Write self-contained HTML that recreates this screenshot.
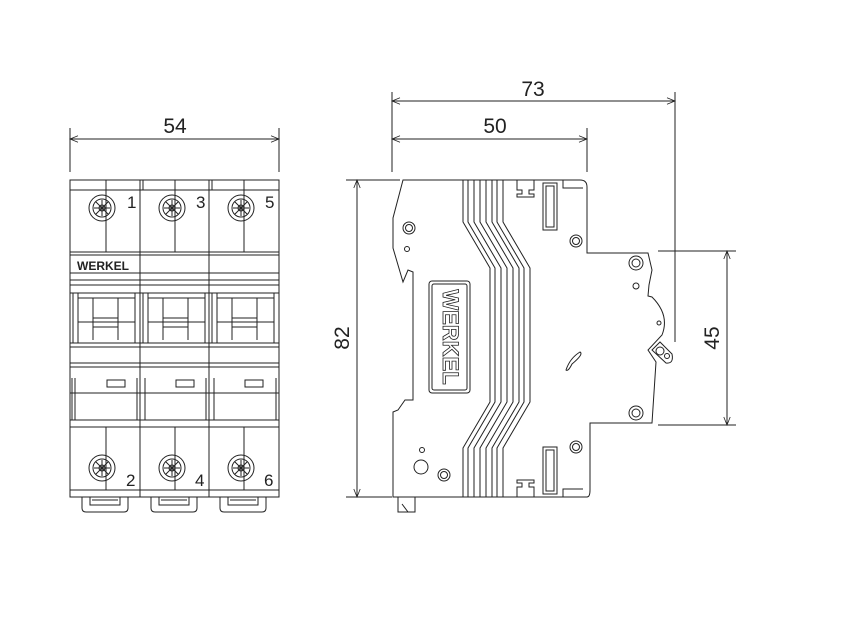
<!DOCTYPE html>
<html><head><meta charset="utf-8"><style>
html,body{margin:0;padding:0;background:#fff}
svg{display:block}
text{font-family:"Liberation Sans",sans-serif;fill:#222}
</style></head><body>
<svg width="842" height="643" viewBox="0 0 842 643" xmlns="http://www.w3.org/2000/svg">
<defs>
<marker id="a" viewBox="0 0 10 10" refX="10" refY="5" markerWidth="10" markerHeight="8" orient="auto-start-reverse" markerUnits="userSpaceOnUse"><path d="M0,1 L10,5 L0,9" fill="none" stroke="#222" stroke-width="1"/></marker>
</defs>
<g stroke="#222" stroke-width="1" fill="none">
<line x1="70" y1="128" x2="70" y2="172"/><line x1="279" y1="128" x2="279" y2="172"/>
<line x1="70" y1="139" x2="279" y2="139" marker-start="url(#a)" marker-end="url(#a)"/>
<line x1="392" y1="92" x2="392" y2="172"/><line x1="675" y1="92" x2="675" y2="342"/>
<line x1="587" y1="128" x2="587" y2="172"/>
<line x1="392" y1="101" x2="675" y2="101" marker-start="url(#a)" marker-end="url(#a)"/>
<line x1="392" y1="139" x2="587" y2="139" marker-start="url(#a)" marker-end="url(#a)"/>
<line x1="346" y1="180" x2="400" y2="180"/><line x1="346" y1="497" x2="392" y2="497"/>
<line x1="357" y1="180" x2="357" y2="497" marker-start="url(#a)" marker-end="url(#a)"/>
<line x1="658" y1="251" x2="736" y2="251"/><line x1="658" y1="425" x2="736" y2="425"/>
<line x1="727" y1="251" x2="727" y2="425" marker-start="url(#a)" marker-end="url(#a)"/>

<rect x="70" y="180" width="209" height="317"/>
<line x1="70" y1="190" x2="279" y2="190"/>
<line x1="140" y1="180" x2="140" y2="497"/><line x1="143" y1="180" x2="143" y2="190"/>
<line x1="209" y1="180" x2="209" y2="497"/><line x1="212" y1="180" x2="212" y2="190"/>
<line x1="106" y1="180" x2="106" y2="252"/><line x1="175" y1="180" x2="175" y2="252"/><line x1="244" y1="180" x2="244" y2="252"/>
<line x1="70" y1="252" x2="279" y2="252"/><line x1="70" y1="255" x2="279" y2="255"/>
<line x1="70" y1="273" x2="279" y2="273"/><line x1="70" y1="280" x2="279" y2="280"/>
<line x1="70" y1="285" x2="279" y2="285"/>
<line x1="70" y1="293" x2="279" y2="293"/>
<g>
<path d="M73,293 V343 M78,293 V343 M93,298 V340 M118,298 V340 M135,293 V343 M78,298 H135 M78,322 H135 M93,318 H118 M93,327 H118"/>
<path d="M143,293 V343 M148,293 V343 M163,298 V340 M188,298 V340 M205,293 V343 M148,298 H205 M148,322 H205 M163,318 H188 M163,327 H188"/>
<path d="M212,293 V343 M217,293 V343 M232,298 V340 M257,298 V340 M274,293 V343 M217,298 H274 M217,322 H274 M232,318 H257 M232,327 H257"/>
</g>
<line x1="70" y1="343" x2="279" y2="343"/><line x1="70" y1="347" x2="279" y2="347"/>
<line x1="70" y1="363" x2="279" y2="363"/><line x1="70" y1="367" x2="279" y2="367"/>
<path d="M72,378 V420 M75,378 V420 M137,378 V420 M145,378 V420 M206,378 V420 M214,378 V420 M276,378 V420"/>
<line x1="70" y1="393" x2="279" y2="393"/>
<rect x="107" y="380" width="18" height="7"/><rect x="176" y="380" width="18" height="7"/><rect x="245" y="380" width="18" height="7"/>
<line x1="70" y1="420" x2="279" y2="420"/><line x1="70" y1="427" x2="279" y2="427"/>
<line x1="106" y1="427" x2="106" y2="490"/><line x1="175" y1="427" x2="175" y2="490"/><line x1="244" y1="427" x2="244" y2="490"/>
<line x1="70" y1="490" x2="279" y2="490"/>
<path d="M82,497 V508 Q82,512 86,512 H124 Q128,512 128,508 V497 M90,497 V505 H120 V497 M92,500 H118"/>
<path d="M151,497 V508 Q151,512 155,512 H193 Q197,512 197,508 V497 M159,497 V505 H189 V497 M161,500 H187"/>
<path d="M220,497 V508 Q220,512 224,512 H262 Q266,512 266,508 V497 M228,497 V505 H258 V497 M230,500 H256"/>
<g>
<circle cx="102" cy="208" r="13"/><circle cx="102" cy="208" r="9"/>
<circle cx="172" cy="208" r="13"/><circle cx="172" cy="208" r="9"/>
<circle cx="241" cy="208" r="13"/><circle cx="241" cy="208" r="9"/>
<circle cx="102" cy="468" r="13"/><circle cx="102" cy="468" r="9"/>
<circle cx="172" cy="468" r="13"/><circle cx="172" cy="468" r="9"/>
<circle cx="241" cy="468" r="13"/><circle cx="241" cy="468" r="9"/>
<circle cx="102" cy="208" r="3"/><circle cx="172" cy="208" r="3"/><circle cx="241" cy="208" r="3"/>
<circle cx="102" cy="468" r="3"/><circle cx="172" cy="468" r="3"/><circle cx="241" cy="468" r="3"/>
<path d="M96,202 L108,214 M108,202 L96,214 M94,208 H110 M102,200 V216 M166,202 L178,214 M178,202 L166,214 M164,208 H180 M172,200 V216 M235,202 L247,214 M247,202 L235,214 M233,208 H249 M241,200 V216 M96,462 L108,474 M108,462 L96,474 M94,468 H110 M102,460 V476 M166,462 L178,474 M178,462 L166,474 M164,468 H180 M172,460 V476 M235,462 L247,474 M247,462 L235,474 M233,468 H249 M241,460 V476"/>
</g>

<path d="M403,180 L393,218 L393,248 L403,282 L408,270 L413,272 L413,400 L405,400 L398,410 L393,412 L393,497 L587,497 Q590,497 590,490 V423 H652 L656,362 L648,350 L662,335 Q670,315 652,297 L648,296 L649,285 L652,270 L648,253 H587 V187 Q587,180 580,180 Z"/>
<path d="M398,497 V512 H415 V497 M402,504 L408,512"/>
<g>
<path d="M463,180 V222 L490,268 V402 L463,448 V497"/>
<path d="M468,180 V222 L495,268 V402 L468,448 V497"/>
<path d="M474,180 V222 L501,268 V402 L474,448 V497"/>
<path d="M480,180 V222 L507,268 V402 L480,448 V497"/>
<path d="M486,180 V222 L513,268 V402 L486,448 V497"/>
<path d="M492,180 V222 L519,268 V402 L492,448 V497"/>
<path d="M497,180 V222 L524,268 V402 L497,448 V497"/>
<path d="M503,180 V222 L530,268 V402 L503,448 V497"/>
</g>
<rect x="429" y="281" width="41" height="112" rx="3"/><rect x="432" y="284" width="35" height="106" rx="2"/>
<rect x="543" y="183" width="14" height="47"/><rect x="546" y="186" width="8" height="41"/>
<rect x="543" y="447" width="14" height="47"/><rect x="546" y="450" width="8" height="41"/>
<path d="M517,180 V190 H522 V194 H517 V197 H534 V194 H529 V190 H534 V180"/>
<path d="M517,497 V487 H522 V483 H517 V480 H534 V483 H529 V487 H534 V497"/>
<path d="M563,180 V188 H583 M563,497 V489 H583"/>
<circle cx="409" cy="228" r="6"/><circle cx="409" cy="228" r="3.5"/>
<circle cx="407" cy="249" r="2.5"/>
<circle cx="576" cy="241" r="6"/><circle cx="576" cy="241" r="3.5"/>
<circle cx="636" cy="263" r="7"/><circle cx="636" cy="263" r="4"/>
<circle cx="636" cy="286" r="3"/><circle cx="659" cy="323" r="2"/>
<circle cx="636" cy="413" r="7"/><circle cx="636" cy="413" r="4"/>
<circle cx="576" cy="447" r="6"/><circle cx="576" cy="447" r="3.5"/>
<circle cx="422" cy="450" r="2.5"/><circle cx="421" cy="467" r="7"/>
<circle cx="444" cy="475" r="6"/><circle cx="444" cy="475" r="3.5"/>
<path d="M652,350 L660,342 L672,354 Q674,364 666,363 Z"/>
<circle cx="660" cy="351" r="4"/><circle cx="667" cy="356" r="2.5"/>
<path d="M566,370 Q570,358 580,352 Q584,354 572,364 Q568,372 566,370 Z"/>
</g>
<text x="449" y="337" transform="rotate(90 449 337)" text-anchor="middle" dominant-baseline="middle" font-size="22" font-weight="bold" style="fill:#fff;stroke:#222;stroke-width:0.8" font-family="Liberation Serif,serif">WERKEL</text>
<text x="77" y="270" font-size="12" font-weight="bold" font-family="Liberation Serif,serif">WERKEL</text>
<g font-size="17">
<text x="127" y="208">1</text><text x="196" y="208">3</text><text x="265" y="208">5</text>
<text x="126" y="486">2</text><text x="195" y="486">4</text><text x="264" y="486">6</text>
</g>
<g font-size="21">
<text x="175" y="133" text-anchor="middle">54</text>
<text x="533" y="96" text-anchor="middle">73</text>
<text x="495" y="133" text-anchor="middle">50</text>
<text x="349" y="338" text-anchor="middle" transform="rotate(-90 349 338)">82</text>
<text x="719" y="338" text-anchor="middle" transform="rotate(-90 719 338)">45</text>
</g>
</svg>
</body></html>
